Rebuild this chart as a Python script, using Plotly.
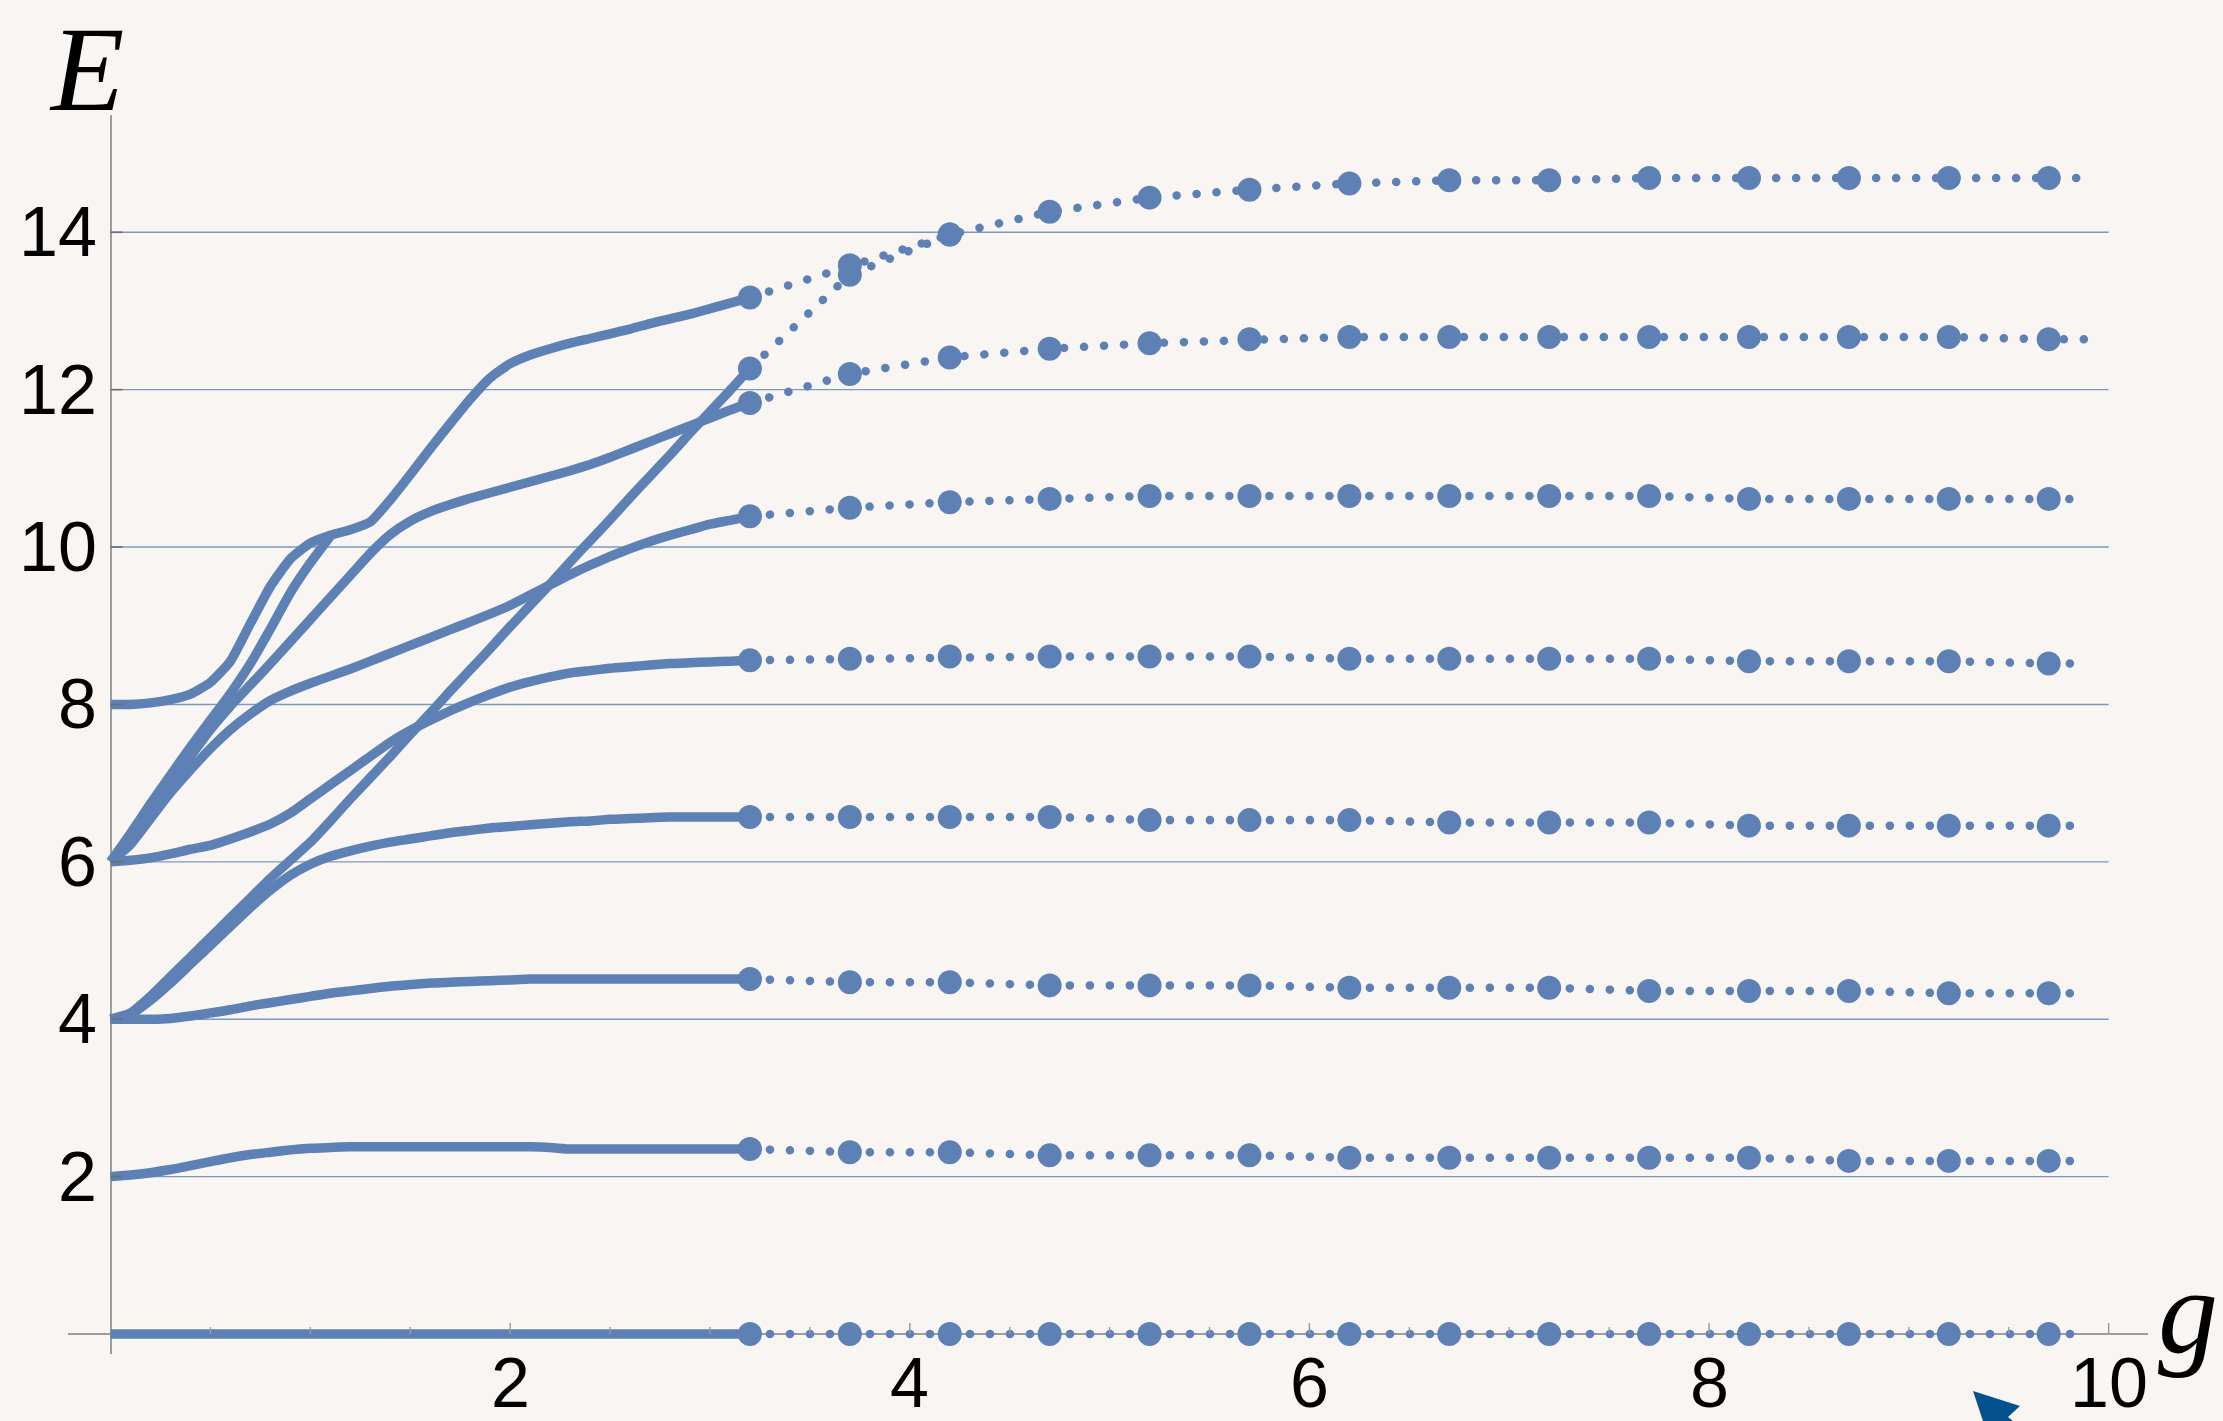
import plotly.graph_objects as go

# ---------------------------------------------------------------------------
# Spectrum E(g): dense numerical branch (0 <= g <= 3.2) and a coarse
# continuation (3.2 <= g <= 9.9) sampled every 0.5.
# ---------------------------------------------------------------------------
G_SOLID = [0.0, 0.1, 0.2, 0.3, 0.4, 0.5, 0.6, 0.7, 0.8, 0.9, 1.0,
           1.1, 1.2, 1.3, 1.4, 1.5, 1.6, 1.7, 1.8, 1.9, 2.0,
           2.1, 2.2, 2.3, 2.4, 2.5, 2.6, 2.7, 2.8, 2.9, 3.0, 3.1, 3.2]

E_0 = [0.00, 0.00, 0.00, 0.00, 0.00, 0.00, 0.00, 0.00, 0.00, 0.00, 0.00,
       0.00, 0.00, 0.00, 0.00, 0.00, 0.00, 0.00, 0.00, 0.00, 0.00,
       0.00, 0.00, 0.00, 0.00, 0.00, 0.00, 0.00, 0.00, 0.00, 0.00, 0.00, 0.00]
E_2 = [2.00, 2.02, 2.05, 2.09, 2.14, 2.19, 2.24, 2.28, 2.31, 2.34, 2.36,
       2.37, 2.38, 2.38, 2.38, 2.38, 2.38, 2.38, 2.38, 2.38, 2.38,
       2.38, 2.37, 2.35, 2.35, 2.35, 2.35, 2.35, 2.35, 2.35, 2.35, 2.35, 2.35]
E_4A = [4.00, 4.00, 4.00, 4.01, 4.04, 4.08, 4.12, 4.17, 4.21, 4.25, 4.29,
        4.33, 4.36, 4.39, 4.42, 4.44, 4.46, 4.47, 4.48, 4.49, 4.50,
        4.51, 4.51, 4.51, 4.51, 4.51, 4.51, 4.51, 4.51, 4.51, 4.51, 4.51, 4.51]
E_4B = [4.00, 4.06, 4.24, 4.46, 4.70, 4.94, 5.18, 5.42, 5.64, 5.83, 5.97,
        6.07, 6.14, 6.20, 6.25, 6.29, 6.33, 6.37, 6.40, 6.43, 6.45,
        6.47, 6.49, 6.51, 6.52, 6.54, 6.55, 6.56, 6.57, 6.57, 6.57, 6.57, 6.57]
E_4C = [4.00, 4.08, 4.29, 4.54, 4.79, 5.04, 5.29, 5.54, 5.79, 6.02, 6.25,
        6.52, 6.80, 7.07, 7.34, 7.62, 7.89, 8.17, 8.44, 8.71, 8.99,
        9.26, 9.53, 9.81, 10.08, 10.35, 10.63, 10.90, 11.17, 11.45, 11.72, 11.99, 12.27]
E_6A = [6.00, 6.02, 6.05, 6.10, 6.16, 6.21, 6.29, 6.38, 6.48, 6.62, 6.80,
        6.98, 7.16, 7.34, 7.52, 7.67, 7.80, 7.92, 8.03, 8.13, 8.22,
        8.29, 8.35, 8.40, 8.43, 8.46, 8.48, 8.50, 8.52, 8.53, 8.54, 8.55, 8.56]
E_6B = [6.00, 6.22, 6.55, 6.88, 7.17, 7.44, 7.68, 7.88, 8.05, 8.17, 8.27,
        8.36, 8.45, 8.55, 8.65, 8.75, 8.85, 8.95, 9.05, 9.15, 9.26,
        9.39, 9.52, 9.65, 9.77, 9.88, 9.98, 10.07, 10.15, 10.22, 10.29, 10.34, 10.39]
E_6C = [6.00, 6.30, 6.65, 7.00, 7.34, 7.68, 7.98, 8.25, 8.52, 8.80, 9.08,
        9.36, 9.64, 9.92, 10.16, 10.33, 10.45, 10.54, 10.62, 10.69, 10.76,
        10.83, 10.90, 10.97, 11.05, 11.14, 11.24, 11.34, 11.44, 11.54, 11.64, 11.74, 11.83]
E_8 = [8.00, 8.00, 8.02, 8.06, 8.13, 8.28, 8.55, 9.03, 9.50, 9.85, 10.05,
       10.15, 10.22, 10.32, 10.60, 10.92, 11.25, 11.57, 11.88, 12.15, 12.33,
       12.44, 12.52, 12.59, 12.65, 12.71, 12.77, 12.84, 12.90, 12.96, 13.03, 13.10, 13.17]

# branch that leaves E=6 and joins the E=8 branch near g = 1.1
G_JOIN = [0.0, 0.1, 0.2, 0.3, 0.4, 0.5, 0.6, 0.7, 0.8, 0.9, 1.0, 1.1]
E_6D = [6.00, 6.36, 6.74, 7.10, 7.46, 7.80, 8.14, 8.52, 8.96, 9.42, 9.80, 10.14]

# coarse continuation
G_DOTTED = [3.2, 3.7, 4.2, 4.7, 5.2, 5.7, 6.2, 6.7, 7.2, 7.7, 8.2, 8.7, 9.2, 9.7, 9.9]
D_0 = [0.00, 0.00, 0.00, 0.00, 0.00, 0.00, 0.00, 0.00, 0.00, 0.00, 0.00, 0.00, 0.00, 0.00, 0.00]
D_2 = [2.35, 2.31, 2.31, 2.27, 2.27, 2.27, 2.24, 2.24, 2.24, 2.24, 2.24, 2.20, 2.20, 2.20, 2.20]
D_4 = [4.51, 4.47, 4.47, 4.43, 4.43, 4.43, 4.40, 4.40, 4.40, 4.36, 4.36, 4.36, 4.33, 4.33, 4.33]
D_6 = [6.57, 6.57, 6.57, 6.57, 6.53, 6.53, 6.53, 6.50, 6.50, 6.50, 6.46, 6.46, 6.46, 6.46, 6.46]
D_8 = [8.56, 8.58, 8.61, 8.61, 8.61, 8.61, 8.58, 8.58, 8.58, 8.58, 8.55, 8.55, 8.55, 8.52, 8.52]
D_10 = [10.39, 10.50, 10.57, 10.61, 10.65, 10.65, 10.65, 10.65, 10.65, 10.65, 10.61, 10.61, 10.61, 10.61, 10.61]
D_12 = [11.83, 12.20, 12.41, 12.52, 12.59, 12.64, 12.67, 12.67, 12.67, 12.67, 12.67, 12.67, 12.67, 12.64, 12.64]
D_14 = [13.17, 13.58, 13.97, 14.26, 14.44, 14.54, 14.62, 14.66, 14.66, 14.69, 14.69, 14.69, 14.69, 14.69, 14.69]
G_MERGE = [3.2, 3.7, 4.2]
D_LIN = [12.27, 13.46, 13.97]

X_TICKS = [2, 4, 6, 8, 10]
X_MINOR = [0.5, 1.0, 1.5, 2.5, 3.0, 3.5, 4.5, 5.0, 5.5, 6.5, 7.0, 7.5, 8.5, 9.0, 9.5]
Y_TICKS = [2, 4, 6, 8, 10, 12, 14]

# ---------------------------------------------------------------------------
BLUE = "#5e81b5"
GRID = "rgba(94,129,181,0.80)"
AXIS = "#9d9d9d"
BG = "#f9f5f2"
W, H = 2223, 1421
PL, PR, PT, PB = 68, 2148, 115, 1354   # plot-area edges in page pixels
XR = [-0.213, 10.197]
YR = [-0.254, 15.49]


def paper_x(px):
    return (px - PL) / (PR - PL)


def paper_y(py):
    return (PB - py) / (PB - PT)


fig = go.Figure()

solid = [(G_SOLID, E_0), (G_SOLID, E_2), (G_SOLID, E_4A), (G_SOLID, E_4B),
         (G_SOLID, E_4C), (G_SOLID, E_6A), (G_SOLID, E_6B), (G_SOLID, E_6C),
         (G_JOIN, E_6D), (G_SOLID, E_8)]
for gx, ey in solid:
    fig.add_trace(go.Scatter(
        x=gx, y=ey, mode="lines",
        line=dict(color=BLUE, width=9.5, shape="spline", smoothing=0.5),
        hoverinfo="skip", showlegend=False))

dotted = [(G_DOTTED, D_0), (G_DOTTED, D_2), (G_DOTTED, D_4), (G_DOTTED, D_6),
          (G_DOTTED, D_8), (G_DOTTED, D_10), (G_DOTTED, D_12),
          (G_MERGE, D_LIN), (G_DOTTED, D_14)]
for gx, ey in dotted:
    sizes = [24 if abs(((g - 3.2) / 0.5) - round((g - 3.2) / 0.5)) < 1e-6 else 0 for g in gx]
    fig.add_trace(go.Scatter(
        x=gx, y=ey, mode="lines+markers",
        line=dict(color=BLUE, width=8.5, dash="0.1px,19.9px"),
        marker=dict(color=BLUE, size=sizes, sizemode="diameter", sizeref=1,
                    opacity=1, line=dict(width=0)),
        hoverinfo="skip", showlegend=False))

shapes = []
for e in Y_TICKS:
    shapes.append(dict(type="line", xref="x", yref="y", x0=0, x1=10, y0=e, y1=e,
                       line=dict(color=GRID, width=1.4), layer="below"))
    shapes.append(dict(type="line", xref="x", yref="y", xsizemode="pixel", xanchor=0,
                       x0=0, x1=12, y0=e, y1=e, line=dict(color="#6e6e6e", width=1.6)))
for g in X_TICKS:
    shapes.append(dict(type="line", xref="x", yref="y", ysizemode="pixel", yanchor=0,
                       x0=g, x1=g, y0=0, y1=11, line=dict(color=AXIS, width=1.5)))
for g in X_MINOR:
    shapes.append(dict(type="line", xref="x", yref="y", ysizemode="pixel", yanchor=0,
                       x0=g, x1=g, y0=0, y1=7, line=dict(color=AXIS, width=1.3)))

# pointer glyph in the lower right corner
pts = [(1973, 1391), (2020, 1406), (2008, 1417), (2013, 1421), (1983, 1421)]
path = "M " + " L ".join(f"{paper_x(px):.5f},{paper_y(py):.5f}" for px, py in pts) + " Z"
shapes.append(dict(type="path", xref="paper", yref="paper", path=path,
                   fillcolor="#03528f", line=dict(width=0)))

annotations = []
TICK_FONT = dict(family="Liberation Sans, Arial, sans-serif", size=70, color="black")
for e in Y_TICKS:
    annotations.append(dict(x=0, y=e, xref="x", yref="y", text=str(e), showarrow=False,
                            xanchor="right", yanchor="middle", xshift=-12, font=TICK_FONT))
for g in X_TICKS:
    annotations.append(dict(x=g, y=0, xref="x", yref="y", text=str(g), showarrow=False,
                            xanchor="center", yanchor="middle", yshift=-49, font=TICK_FONT))

TITLE_FONT = dict(family="Liberation Serif, Times New Roman, serif", size=120, color="black")
annotations.append(dict(x=paper_x(86), y=paper_y(1), xref="paper", yref="paper",
                        text="<i>E</i>", showarrow=False, xanchor="center", yanchor="top",
                        font=TITLE_FONT))
annotations.append(dict(x=paper_x(2188), y=paper_y(1311), xref="paper", yref="paper",
                        text="<i>g</i>", showarrow=False, xanchor="center", yanchor="middle",
                        font=TITLE_FONT))

fig.update_layout(
    width=W, height=H,
    margin=dict(l=PL, r=W - PR, t=PT, b=H - PB, pad=0, autoexpand=False),
    paper_bgcolor=BG, plot_bgcolor=BG,
    shapes=shapes, annotations=annotations,
    xaxis=dict(range=XR, showgrid=False, showticklabels=False, ticks="",
               zeroline=True, zerolinecolor=AXIS, zerolinewidth=1.6, showline=False,
               fixedrange=True),
    yaxis=dict(range=YR, showgrid=False, showticklabels=False, ticks="",
               zeroline=True, zerolinecolor=AXIS, zerolinewidth=1.6, showline=False,
               fixedrange=True),
)

# round caps turn the sparse dash pattern into dots
ROUND_CAPS = """
document.querySelectorAll('.scatterlayer path.js-line').forEach(function (p) {
  var d = p.style.strokeDasharray;
  if (d && d !== 'none') { p.style.strokeLinecap = 'round'; }
});
"""

fig.write_html("out.html", post_script=ROUND_CAPS, config=dict(displayModeBar=False))
